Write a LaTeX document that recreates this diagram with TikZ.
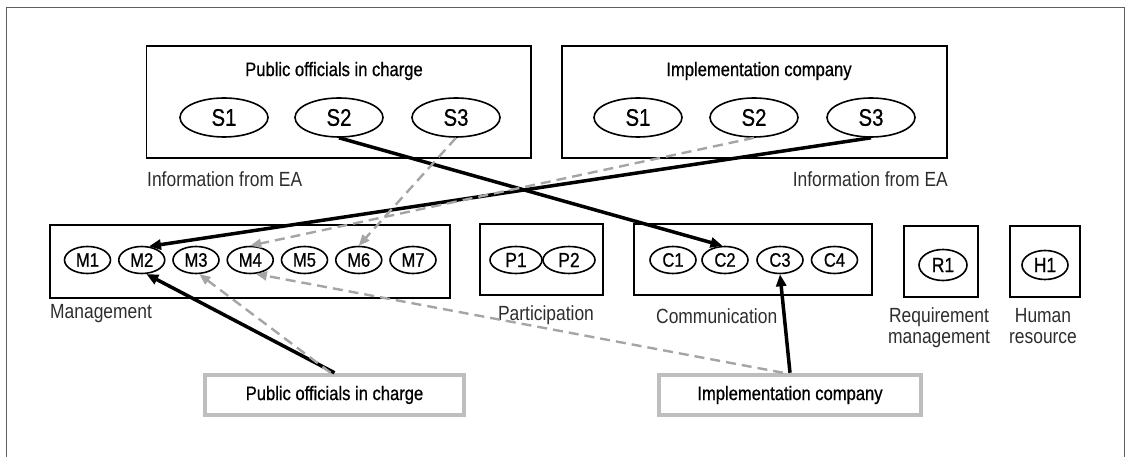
\documentclass[tikz,border=0pt]{standalone}
\usepackage{fontspec}
\setmainfont{Liberation Sans}[FakeStretch=0.85]
\newfontfamily\medfont{Liberation Sans}[FakeStretch=0.85,FakeBold=0.8]
\usetikzlibrary{shapes.geometric,arrows.meta}
\definecolor{framegray}{RGB}{95,95,95}
\definecolor{dashgray}{RGB}{165,165,165}
\definecolor{bargray}{RGB}{190,190,190}
\definecolor{labelgray}{RGB}{45,45,45}
\begin{document}
\begin{tikzpicture}[x=1pt,y=-1pt,
  box/.style={draw, line width=1.5pt, inner sep=0},
  ell/.style={draw, ellipse, line width=1.6pt, inner sep=0},
  sell/.style={ell, minimum width=88pt, minimum height=39pt, font=\medfont\fontsize{24}{25}\selectfont},
  mell/.style={ell, minimum width=46pt, minimum height=27pt, font=\medfont\fontsize{19.5}{20}\selectfont},
  pell/.style={ell, minimum width=52pt, minimum height=27pt, font=\medfont\fontsize{20.5}{21}\selectfont},
  rell/.style={ell, minimum width=48pt, minimum height=31pt, font=\medfont\fontsize{20.5}{21}\selectfont},
  title/.style={font=\medfont\fontsize{19.5}{21}\selectfont, inner sep=0},
  lbl/.style={font=\fontsize{20.5}{21}\selectfont, text=labelgray, inner sep=0},
  actor/.style={draw=bargray, line width=4.5pt, inner sep=0, font=\medfont\fontsize{19.5}{21}\selectfont},
  blk/.style={line width=3.5pt, -{Triangle[length=12pt,width=10pt]}},
  gry/.style={line width=2.4pt, draw=dashgray, dash pattern=on 10pt off 6pt, -{Triangle[length=11pt,width=9pt,fill=dashgray]}}
]
\useasboundingbox (0,0) rectangle (1127,457);
% outer frame (open at the bottom)
\draw[framegray, line width=1.6pt] (6.5,457) -- (6.5,7.5) -- (1124.5,7.5) -- (1124.5,457);

% top boxes
\node[box, minimum width=384.5pt, minimum height=112pt] (topA) at (338.75,102) {};
\node[title] (topAt) at (334,71) {Public officials in charge};
\node[sell] (a1) at (224,117.5) {S1};
\node[sell] (a2) at (339,117.5) {S2};
\node[sell] (a3) at (456,117.5) {S3};
\node[lbl, anchor=west] (infoA) at (147,179) {Information from EA};

\node[box, minimum width=385pt, minimum height=112pt] (topB) at (754.5,102) {};
\node[title] (topBt) at (759,71) {Implementation company};
\node[sell] (b1) at (638,117.5) {S1};
\node[sell] (b2) at (754,117.5) {S2};
\node[sell] (b3) at (871,117.5) {S3};
\node[lbl, anchor=east] (infoB) at (948,179) {Information from EA};

% management
\node[box, minimum width=400pt, minimum height=73pt] (mgmt) at (250,261.5) {};
\foreach \i in {1,...,7}{
  \node[mell] (M\i) at ({87.5+54.25*(\i-1)},260) {M\i};
}
\node[lbl, anchor=west] (mgmtl) at (50,314) {Management};

% participation
\node[box, minimum width=123pt, minimum height=71pt] (part) at (541.5,259.5) {};
\node[pell] (P1) at (516,260) {P1};
\node[pell] (P2) at (569,260) {P2};
\node[lbl] (partl) at (546,315) {Participation};

% communication
\node[box, minimum width=238pt, minimum height=71pt] (comm) at (753,259.5) {};
\node[mell] (C1) at (673,260) {C1};
\node[mell] (C2) at (725,260) {C2};
\node[mell] (C3) at (780,260) {C3};
\node[mell] (C4) at (834.5,260) {C4};
\node[lbl, anchor=west] (comml) at (656,316) {Communication};

% requirement management
\node[box, minimum width=74pt, minimum height=71pt] (req) at (941,261.5) {};
\node[rell] (R1) at (943,265) {R1};
\node[lbl, align=center] (reql) at (939,327.5) {Requirement\\[0pt]management};

% human resource
\node[box, minimum width=70pt, minimum height=71pt] (hum) at (1045,261.5) {};
\node[rell, minimum width=46pt, minimum height=29pt] (H1) at (1045,265) {H1};
\node[lbl, align=center] (huml) at (1043,326.5) {Human\\[0pt]resource};

% actors
\node[actor, minimum width=259pt, minimum height=40pt] (pub) at (334.5,395) {Public officials in charge};
\node[actor, minimum width=262pt, minimum height=40pt] (imp) at (790,395) {Implementation company};

% connectors
\draw[blk] (a2.south) -- (C2.100);
\draw[blk] (b3.south) -- (M2.62);
\draw[gry] (a3.south) -- (M6.north);
\draw[gry] (b2.south) -- (M4.north);
\draw[blk] (pub.north) -- (M2.288);
\draw[gry] ([xshift=-4pt]pub.north) -- (M3.283);
\draw[gry] ([xshift=-7pt]imp.north) -- (M4.292);
\draw[blk] (imp.north) -- (C3.south);
\end{tikzpicture}
\end{document}
